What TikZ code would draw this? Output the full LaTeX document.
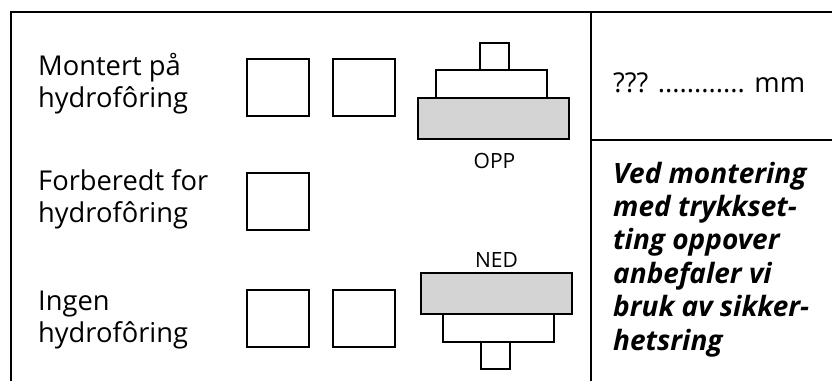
\documentclass[tikz,border=0pt]{standalone}
\usepackage{fontspec}
\setmainfont{Open Sans}
\begin{document}
\begin{tikzpicture}[x=1pt,y=-1pt,
  frame/.style={line width=2pt},
  chk/.style={line width=1.2pt},
  part/.style={line width=1.2pt, fill=white},
  seal/.style={line width=1.2pt, fill=sealgray},
  lbl/.style={anchor=base west, inner sep=0pt, align=left,
    font=\fontsize{27.3}{32}\selectfont},
  note/.style={anchor=base west, inner sep=0pt, align=left,
    font=\fontsize{28}{33.4}\selectfont\bfseries\itshape},
  small/.style={anchor=base, inner sep=0pt, font=\fontsize{21}{25}\selectfont}]
\definecolor{sealgray}{HTML}{D4D4D4}
\useasboundingbox (0,0) rectangle (832,381);
% frame
\draw[frame] (11,381) -- (11,12) -- (832,12);
\draw[frame] (591,12) -- (591,381);
\draw[frame] (591,140) -- (832,140);
% labels (base anchor = baseline of last line)
\node[lbl] (l1) at (38,107) {Montert på\\hydrofôring};
\node[lbl] (l2) at (38,222) {Forberedt for\\hydrofôring};
\node[lbl] (l3) at (38,342) {Ingen\\hydrofôring};
% check boxes
\draw[chk] (247,59) rectangle (309,116);
\draw[chk] (333,59) rectangle (395,116);
\draw[chk] (247,173) rectangle (309,230);
\draw[chk] (247,290) rectangle (309,347);
\draw[chk] (333,290) rectangle (395,347);
% OPP figure
\draw[part] (480,43) rectangle (509,70);
\draw[part] (436,70) rectangle (547,98);
\draw[seal] (418,98) rectangle (569,139);
\node[small] (opp) at (494.5,168) {OPP};
% NED figure
\draw[seal] (421,273) rectangle (572,314);
\draw[part] (443,314) rectangle (554,342);
\draw[part] (481,342) rectangle (510,369);
\node[small] (ned) at (496.5,267) {NED};
% right column
\node[lbl] (mm) at (613,92) {??? ............ mm};
\node[note] (nt) at (613,350) {Ved montering\\med trykkset-\\ting oppover\\anbefaler vi\\bruk av sikker-\\hetsring};
\end{tikzpicture}
\end{document}
